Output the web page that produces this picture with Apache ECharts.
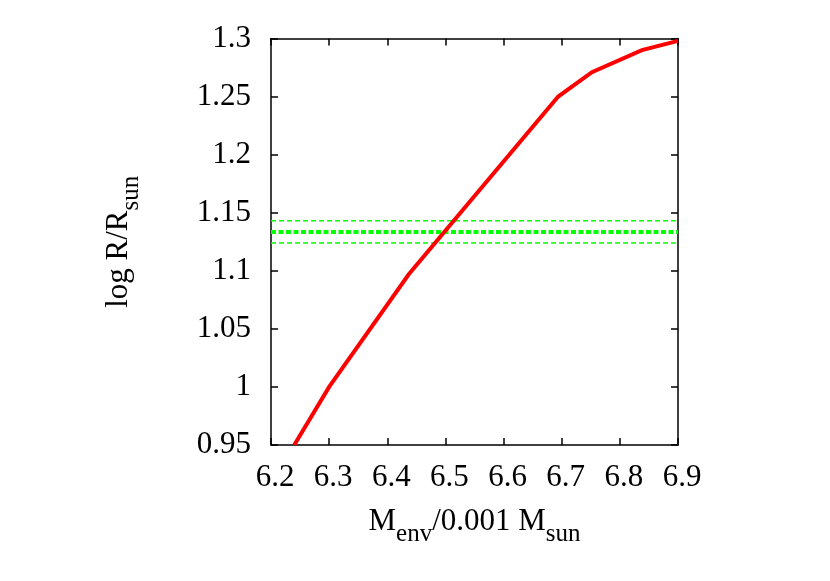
<!DOCTYPE html>
<html>
<head>
<meta charset="utf-8">
<script src="https://cdn.jsdelivr.net/npm/echarts@6/dist/echarts.min.js"></script>
<style>
html,body{margin:0;padding:0;background:#fff;}
#chart{width:830px;height:581px;}
</style>
</head>
<body>
<div id="chart"></div>
<script>
// Data
const menv = [6.24, 6.3, 6.437, 6.694, 6.752, 6.838, 6.9];
const logR = [0.95, 1.0, 1.097, 1.25, 1.271, 1.290, 1.298];
const obsRange = [6.2, 6.9];
const obsMid = 1.1335;
const obsUpper = 1.143;
const obsLower = 1.124;
const xTicks = [6.2, 6.3, 6.4, 6.5, 6.6, 6.7, 6.8, 6.9];
const yTicks = [0.95, 1, 1.05, 1.1, 1.15, 1.2, 1.25, 1.3];

const FONT = '"Liberation Serif", "DejaVu Serif", serif';
const chart = echarts.init(document.getElementById('chart'), null, {renderer: 'canvas'});

const axisLineStyle = {show: true, lineStyle: {color: '#000', width: 1.5}};
const tickStyle = {show: true, inside: true, length: 7, lineStyle: {color: '#000', width: 1.5}};

function lineData(xs, ys) { return xs.map((x, i) => [x, ys[i]]); }
const titleRich = {
  a: {fontFamily: FONT, fontSize: 31, color: '#000', lineHeight: 50},
  s: {fontFamily: FONT, fontSize: 25, color: '#000', lineHeight: 22, verticalAlign: 'bottom'}
};

const option = {
  backgroundColor: '#fff',
  animation: false,
  grid: {left: 271, right: 152, top: 38.5, bottom: 136, containLabel: false},
  xAxis: [{
    type: 'value', min: 6.2, max: 6.9, interval: 0.1, position: 'bottom',
    axisLine: axisLineStyle, axisTick: tickStyle, splitLine: {show: false},
    axisLabel: {color: '#000', fontFamily: FONT, fontSize: 31, margin: 17, padding: [0, 0, 0, 8],
      formatter: v => { const t = xTicks.find(k => Math.abs(k - v) < 1e-6); return t === undefined ? '' : String(t); }},
    name: '{a|M}{s|env}{a|/0.001 M}{s|sun}',
    nameLocation: 'middle', nameGap: 52,
    nameTextStyle: {rich: titleRich}
  }, {
    type: 'value', min: 6.2, max: 6.9, interval: 0.1, position: 'top',
    axisLine: axisLineStyle, axisTick: tickStyle, axisLabel: {show: false}, splitLine: {show: false}
  }],
  yAxis: [{
    type: 'value', min: 0.95, max: 1.3, interval: 0.05, position: 'left',
    axisLine: axisLineStyle, axisTick: tickStyle, splitLine: {show: false},
    axisLabel: {color: '#000', fontFamily: FONT, fontSize: 31, margin: 20,
      formatter: v => { const t = yTicks.find(k => Math.abs(k - v) < 1e-6); return t === undefined ? '' : String(t); }},
    name: '{a|log R/R}{s|sun}',
    nameLocation: 'middle', nameGap: 127, nameRotate: 90,
    nameTextStyle: {rich: titleRich}
  }, {
    type: 'value', min: 0.95, max: 1.3, interval: 0.05, position: 'right',
    axisLine: axisLineStyle, axisTick: tickStyle, axisLabel: {show: false}, splitLine: {show: false}
  }],
  series: [
    {type: 'line', data: lineData(obsRange, [obsUpper, obsUpper]), symbol: 'none', silent: true,
     lineStyle: {color: '#00ff00', width: 1.5, type: [5, 3]}},
    {type: 'line', data: lineData(obsRange, [obsLower, obsLower]), symbol: 'none', silent: true,
     lineStyle: {color: '#00ff00', width: 1.5, type: [5, 3]}},
    {type: 'line', data: lineData(obsRange, [obsMid, obsMid]), symbol: 'none', silent: true,
     lineStyle: {color: '#00ff00', width: 4, type: [5, 2.5]}},
    {type: 'line', data: lineData(menv, logR), symbol: 'none', clip: true,
     lineStyle: {color: '#ff0000', width: 4, cap: 'butt', join: 'miter'}}
  ]
};
chart.setOption(option);
</script>
</body>
</html>
